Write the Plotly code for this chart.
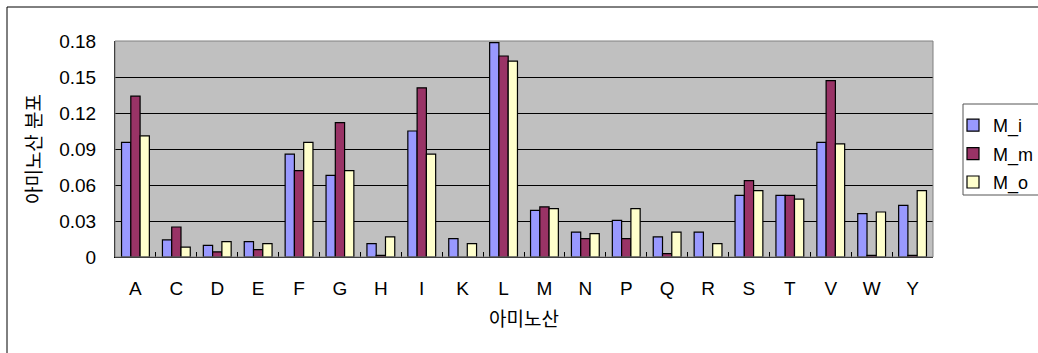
import plotly.graph_objects as go

categories = ["A","C","D","E","F","G","H","I","K","L","M","N","P","Q","R","S","T","V","W","Y"]
m_i = [0.0956,0.0142,0.0097,0.0128,0.0858,0.068,0.0111,0.105,0.0153,0.1786,0.0389,0.0208,0.0306,0.0167,0.0208,0.0514,0.0514,0.0956,0.0361,0.0431]
m_m = [0.134,0.025,0.0042,0.0061,0.0719,0.112,0.0014,0.141,0.0,0.1675,0.0417,0.0153,0.0153,0.0028,0.0,0.0636,0.0514,0.147,0.0014,0.0014]
m_o = [0.101,0.0083,0.0128,0.0111,0.0956,0.072,0.0167,0.0858,0.0111,0.1633,0.0403,0.0194,0.0403,0.0208,0.0111,0.0553,0.0483,0.0942,0.0375,0.0553]
series_names = ["M_i","M_m","M_o"]
colors = ["#9999FF","#993366","#FFFFCC"]
y_ticks = [0,0.03,0.06,0.09,0.12,0.15,0.18]
y_tick_text = ["0","0.03","0.06","0.09","0.12","0.15","0.18"]

FONT = "Liberation Sans, Noto Sans CJK KR, sans-serif"

fig = go.Figure()
for name, vals, col in zip(series_names, [m_i, m_m, m_o], colors):
    fig.add_trace(go.Bar(x=categories, y=vals, name=name, legendgroup=name,
                         marker=dict(color=col, line=dict(color="black", width=1.2))))

fig.update_layout(
    width=1038, height=353,
    margin=dict(l=115, r=105, t=41, b=96, autoexpand=False),
    paper_bgcolor="white", plot_bgcolor="#C0C0C0",
    barmode="group", bargap=0.32, bargroupgap=0,
    font=dict(family=FONT, size=18, color="black"),
    legend=dict(xref="container", yref="container", x=953/1038, y=1-107/353,
                xanchor="left", yanchor="top",
                borderwidth=0, bgcolor="rgba(0,0,0,0)",
                font=dict(size=18), itemwidth=30, traceorder="grouped",
                tracegroupgap=2),
    xaxis=dict(showline=True, linecolor="black", linewidth=1,
               ticks="inside", ticklen=5, tickcolor="black", tickson="boundaries",
               tickfont=dict(size=19), ticklabelstandoff=14,
               title=dict(text="아미노산", font=dict(size=19), standoff=14)),
    yaxis=dict(range=[0,0.18], tickvals=y_ticks, ticktext=y_tick_text,
               showline=True, linecolor="black", linewidth=1,
               ticks="inside", ticklen=4, tickcolor="black",
               showgrid=True, gridcolor="black", gridwidth=1, zeroline=False,
               tickfont=dict(size=19), ticklabelstandoff=14,
               title=dict(text="아미노산 분포", font=dict(size=19), standoff=12)),
    showlegend=True,
)

# plot area outline (gray), legend box and outer chart frame
fig.add_shape(type="rect", xref="paper", yref="paper", x0=0, y0=0, x1=1, y1=1,
              line=dict(color="#808080", width=1), layer="above")
fig.add_shape(type="rect", xref="paper", yref="paper",
              x0=(963-115)/818, y0=(257-195)/216, x1=(1200-115)/818, y1=(257-104)/216,
              line=dict(color="#555555", width=1))
fig.add_shape(type="rect", xref="paper", yref="paper",
              x0=(7-115)/818, y0=(257-400)/216, x1=(1200-115)/818, y1=(257-7)/216,
              line=dict(color="black", width=1))

fig.write_html("out.html")
